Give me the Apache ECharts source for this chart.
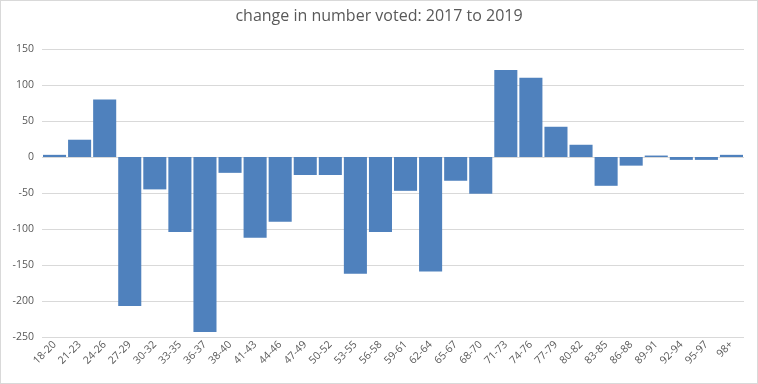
<!DOCTYPE html>
<html>
<head>
<meta charset="utf-8">
<script src="https://cdn.jsdelivr.net/npm/echarts@6/dist/echarts.min.js"></script>
<style>
html,body{margin:0;padding:0;background:#fff;}
#c{width:756px;height:382px;border:1px solid #d9d9d9;}
</style>
</head>
<body>
<div id="c"></div>
<script>
const categories = ["18-20","21-23","24-26","27-29","30-32","33-35","36-37","38-40","41-43","44-46","47-49","50-52","53-55","56-58","59-61","62-64","65-67","68-70","71-73","74-76","77-79","80-82","83-85","86-88","89-91","92-94","95-97","98+"];
const changeValues = [3,24,80,-207,-45,-104,-243,-22,-112,-90,-25,-25,-162,-104,-47,-159,-33,-51,121,110,42,17,-40,-12,2,-4,-4,3];
const yTicks = [-250,-200,-150,-100,-50,0,50,100,150];
const titleText = "change in number voted: 2017 to 2019";

const chart = echarts.init(document.getElementById('c'));
chart.setOption({
  animation:false,
  title:{text:titleText,left:'center',top:2,textStyle:{fontFamily:'Open Sans',fontSize:16,fontWeight:'normal',color:'#595959'}},
  grid:{left:41,right:13,top:48,bottom:46,containLabel:false},
  xAxis:{type:'category',data:categories,
    axisLine:{show:false},axisTick:{show:false},
    axisLabel:{rotate:45,interval:0,margin:6,fontFamily:'Open Sans',fontSize:10.5,color:'#595959'}},
  yAxis:{type:'value',min:yTicks[0],max:yTicks[yTicks.length-1],interval:50,
    axisLine:{show:false},axisTick:{show:false},
    axisLabel:{fontFamily:'Open Sans',fontSize:10.5,color:'#595959',margin:8},
    splitLine:{lineStyle:{color:'#d9d9d9',width:1}}},
  series:[{type:'bar',data:changeValues,barCategoryGap:'8%',itemStyle:{color:'#4f81bd'}}]
});
</script>
</body>
</html>
